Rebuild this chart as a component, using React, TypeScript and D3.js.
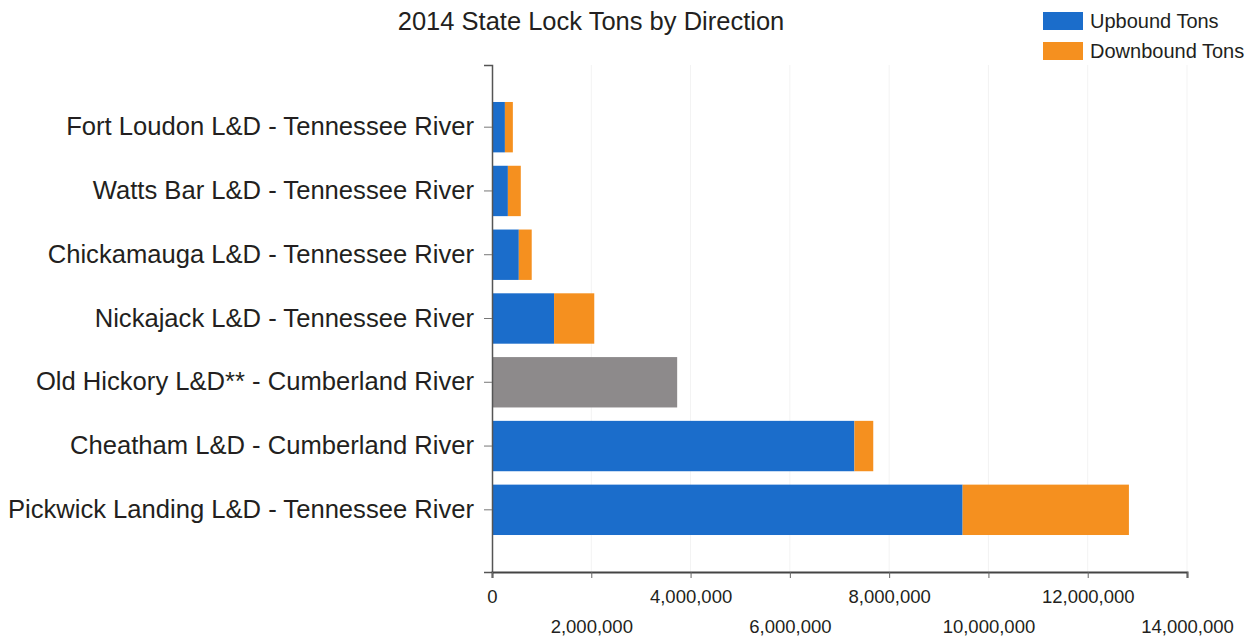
import * as d3 from 'd3';
import { useEffect, useRef } from 'react';

// locks, top to bottom as drawn
const locks = [
	'Fort Loudon L&D - Tennessee River',
	'Watts Bar L&D - Tennessee River',
	'Chickamauga L&D - Tennessee River',
	'Nickajack L&D - Tennessee River',
	'Old Hickory L&D** - Cumberland River',
	'Cheatham L&D - Cumberland River',
	'Pickwick Landing L&D - Tennessee River',
];

const upbound = [260000, 320000, 540000, 1250000, 0, 7300000, 9480000];
const downbound = [160000, 260000, 260000, 810000, 0, 380000, 3350000];
// Old Hickory has no split by direction
const undivided = [0, 0, 0, 0, 3730000, 0, 0];

const xTicks = [0, 2000000, 4000000, 6000000, 8000000, 10000000, 12000000, 14000000];
const legendLabels = ['Upbound Tons', 'Downbound Tons'];

const W = 1259;
const H = 637;
const font = 'Liberation Sans, Arial, sans-serif';
const textColor = '#231f20';
const blue = '#1b6dcb';
const orange = '#f5901f';
const grey = '#8d8a8b';

export default function App() {
	const ref = useRef<SVGSVGElement>(null);

	useEffect(() => {
		const svg = d3.select(ref.current);
		svg.selectAll('*').remove();

		const margin = { top: 65, left: 492, right: 72, bottom: 65 };
		const x = d3.scaleLinear().domain([0, 14000000]).range([margin.left, W - margin.right]);
		const y = d3
			.scaleBand()
			.domain(locks)
			.range([margin.top, H - margin.bottom])
			.paddingInner(0.21)
			.paddingOuter(0.58);

		// faint gridlines
		svg
			.append('g')
			.selectAll('line')
			.data(xTicks.slice(1))
			.enter()
			.append('line')
			.attr('x1', (d) => x(d))
			.attr('x2', (d) => x(d))
			.attr('y1', margin.top)
			.attr('y2', H - margin.bottom)
			.attr('stroke', '#f3f3f3')
			.attr('stroke-width', 1);

		// bars
		const rows = locks.map((name, i) => ({ name, up: upbound[i], down: downbound[i], all: undivided[i] }));
		const g = svg.append('g');
		g.selectAll('.up')
			.data(rows)
			.enter()
			.append('rect')
			.attr('x', x(0))
			.attr('y', (d) => y(d.name)!)
			.attr('width', (d) => x(d.up) - x(0))
			.attr('height', y.bandwidth())
			.attr('fill', blue);
		g.selectAll('.down')
			.data(rows)
			.enter()
			.append('rect')
			.attr('x', (d) => x(d.up))
			.attr('y', (d) => y(d.name)!)
			.attr('width', (d) => x(d.up + d.down) - x(d.up))
			.attr('height', y.bandwidth())
			.attr('fill', orange);
		g.selectAll('.all')
			.data(rows)
			.enter()
			.append('rect')
			.attr('x', x(0))
			.attr('y', (d) => y(d.name)!)
			.attr('width', (d) => x(d.all) - x(0))
			.attr('height', y.bandwidth())
			.attr('fill', grey);

		// y axis
		const yAxis = svg
			.append('g')
			.attr('transform', `translate(${margin.left},0)`)
			.call(d3.axisLeft(y).tickSizeOuter(0).tickSize(8).tickPadding(10));
		yAxis.select('.domain').attr('stroke', '#555').attr('stroke-width', 1.5);
		yAxis.selectAll('.tick line').attr('stroke', '#777');
		yAxis
			.selectAll('text')
			.attr('font-family', font)
			.attr('font-size', 25.6)
			.attr('fill', textColor);

		// x axis, labels alternate between two rows
		const xAxis = svg
			.append('g')
			.attr('transform', `translate(0,${H - margin.bottom})`)
			.call(
				d3
					.axisBottom(x)
					.tickValues(xTicks)
					.tickSizeOuter(0)
					.tickSize(6)
					.tickFormat((d) => d3.format(',')(d as number))
			);
		xAxis.select('.domain').attr('stroke', '#444').attr('stroke-width', 2);
		xAxis.selectAll('.tick line').attr('stroke', '#666');
		xAxis
			.selectAll('text')
			.attr('font-family', font)
			.attr('font-size', 18.5)
			.attr('fill', textColor)
			.attr('y', (_d, i) => (i % 2 === 0 ? 18 : 48));

		// title
		svg
			.append('text')
			.attr('x', 591)
			.attr('y', 30)
			.attr('text-anchor', 'middle')
			.attr('font-family', font)
			.attr('font-size', 25.5)
			.attr('fill', textColor)
			.text('2014 State Lock Tons by Direction');

		// legend
		const legend = svg
			.append('g')
			.selectAll('g')
			.data(legendLabels)
			.enter()
			.append('g')
			.attr('transform', (_d, i) => `translate(1043,${12 + i * 30})`);
		legend
			.append('rect')
			.attr('width', 40)
			.attr('height', 18)
			.attr('fill', (_d, i) => (i === 0 ? blue : orange));
		legend
			.append('text')
			.attr('x', 47)
			.attr('y', 16)
			.attr('font-family', font)
			.attr('font-size', 20)
			.attr('fill', textColor)
			.text((d) => d);
	}, []);

	return (
		<svg
			ref={ref}
			width={W}
			height={H}
			style={{ position: 'absolute', left: 0, top: 0, background: '#fff' }}
		></svg>
	);
}
